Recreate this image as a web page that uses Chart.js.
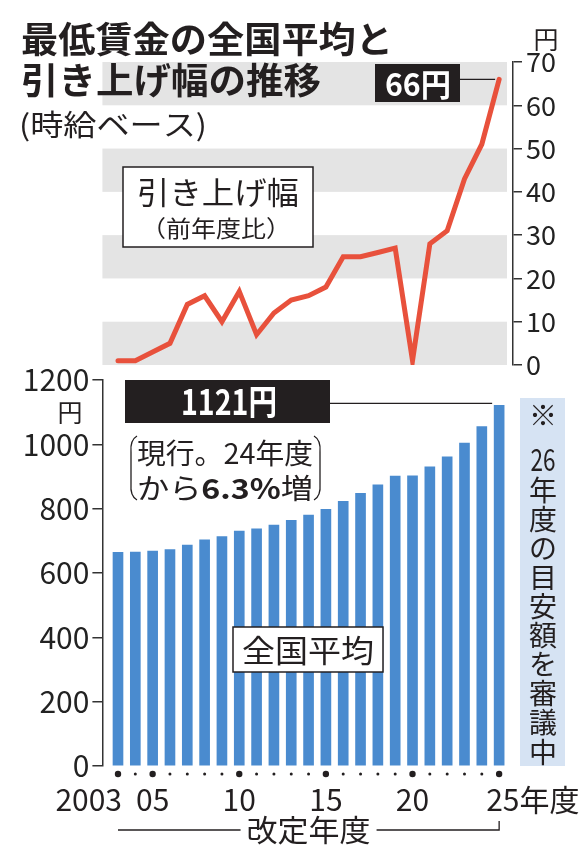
<!DOCTYPE html>
<html>
<head>
<meta charset="utf-8">
<script src="https://cdn.jsdelivr.net/npm/chart.js@4"></script>
<style>
  html, body { margin: 0; padding: 0; background: #fff; }
  #wrap { position: relative; width: 580px; height: 860px; }
  canvas { position: absolute; left: 0; top: 0; }
</style>
</head>
<body>
<div id="wrap">
  <canvas id="top" width="580" height="860"></canvas>
  <canvas id="bottom" width="580" height="860"></canvas>
</div>
<script>
// 改定年度
const years = [2003, 2004, 2005, 2006, 2007, 2008, 2009, 2010, 2011, 2012, 2013, 2014,
               2015, 2016, 2017, 2018, 2019, 2020, 2021, 2022, 2023, 2024, 2025];
// 全国平均（時給、円）
const wage = [664, 665, 668, 673, 687, 703, 713, 730, 737, 749, 764, 780,
              798, 823, 848, 874, 901, 902, 930, 961, 1004, 1055, 1121];
// 引き上げ幅（前年度比、円）
const raise = [1, 1, 3, 5, 14, 16, 10, 17, 7, 12, 15, 16,
               18, 25, 25, 26, 27, 1, 28, 31, 43, 51, 66];
const yearLabels = { 2003: "2003", 2005: "05", 2010: "10", 2015: "15", 2020: "20", 2025: "25" };
const bandRanges = [[0, 10], [20, 30], [40, 50], [60, 70]];
const noteChars = ["※", "26", "年", "度", "の", "目", "安", "額", "を", "審", "議", "中"];

const JP = '"Noto Sans CJK JP", "Noto Sans", sans-serif';
Chart.defaults.font.family = JP;
Chart.defaults.color = "#222";

const INK = "#231f20";
const X_MIN = 2002.1, X_MAX = 2025.8;

// draw text squeezed/stretched horizontally to a given width
function fitText(ctx, text, x, y, size, width, align, weight) {
  ctx.save();
  ctx.font = (weight || "normal") + " " + size + "px " + JP;
  const w = ctx.measureText(text).width;
  const s = width ? width / w : 1;
  ctx.translate(x, y);
  ctx.scale(s, 1);
  ctx.textAlign = align || "left";
  ctx.textBaseline = "middle";
  ctx.fillText(text, 0, 0);
  ctx.restore();
}

function line(ctx, pts, w) {
  ctx.beginPath();
  ctx.moveTo(pts[0][0], pts[0][1]);
  for (let i = 1; i < pts.length; i++) ctx.lineTo(pts[i][0], pts[i][1]);
  ctx.lineWidth = w || 1.3;
  ctx.strokeStyle = INK;
  ctx.stroke();
}

const topDecor = {
  id: "topDecor",
  beforeDatasetsDraw(chart) {
    const { ctx, chartArea, scales } = chart;
    ctx.save();
    ctx.fillStyle = "#e4e4e4";
    bandRanges.forEach(([lo, hi]) => {
      const y1 = scales.y.getPixelForValue(hi), y2 = scales.y.getPixelForValue(lo);
      ctx.fillRect(chartArea.left, y1, chartArea.right - 6 - chartArea.left, y2 - y1);
    });
    ctx.restore();
  },
  afterDraw(chart) {
    const { ctx, scales } = chart;
    ctx.save();
    ctx.fillStyle = INK;
    // title
    fitText(ctx, "最低賃金の全国平均と", 21, 39, 36, 372, "left", "bold");
    fitText(ctx, "引き上げ幅の推移", 21, 80, 36, 300, "left", "bold");
    fitText(ctx, "(時給ベース)", 19, 125, 29, 188, "left");
    // unit
    fitText(ctx, "円", 546, 39, 25, 0, "center");

    // label box
    ctx.fillStyle = "#fff";
    ctx.fillRect(123, 167, 190, 80);
    ctx.strokeStyle = INK;
    ctx.lineWidth = 1.5;
    ctx.strokeRect(123, 167, 190, 80);
    ctx.fillStyle = INK;
    fitText(ctx, "引き上げ幅", 218, 192, 31, 162, "center");
    fitText(ctx, "（前年度比）", 216, 228, 23, 150, "center");

    // 66円 callout
    const last = years.length - 1;
    const px = scales.x.getPixelForValue(years[last]);
    const py = scales.y.getPixelForValue(raise[last]);
    line(ctx, [[460, py], [px - 4, py]], 1.3);
    ctx.fillStyle = "#231f20";
    ctx.fillRect(375, 64, 85, 38);
    ctx.fillStyle = "#fff";
    fitText(ctx, raise[last] + "円", 418, 84, 31, 66, "center", "bold");
    ctx.restore();
  }
};

const bottomDecor = {
  id: "bottomDecor",
  afterDraw(chart) {
    const { ctx, scales } = chart;
    const xs = scales.x, ys = scales.y;
    ctx.save();
    ctx.fillStyle = INK;

    // dots and year labels
    years.forEach(yr => {
      const px = xs.getPixelForValue(yr);
      const big = yr in yearLabels;
      ctx.beginPath();
      ctx.arc(px, 774, big ? 3.2 : 1.5, 0, Math.PI * 2);
      ctx.fill();
    });
    ctx.font = "30px " + JP;
    ctx.textBaseline = "middle";
    Object.keys(yearLabels).forEach(k => {
      const yr = +k;
      const px = xs.getPixelForValue(yr);
      if (yr === years[0]) {
        ctx.textAlign = "right";
        ctx.fillText(yearLabels[k], px + 4, 800);
      } else if (yr === years[years.length - 1]) {
        ctx.textAlign = "left";
        ctx.fillText(yearLabels[k], px - 13, 800);
        fitText(ctx, "年度", px - 13 + ctx.measureText(yearLabels[k]).width, 800, 30, 0, "left");
        ctx.font = "30px " + JP;
        ctx.textBaseline = "middle";
      } else {
        ctx.textAlign = "center";
        ctx.fillText(yearLabels[k], px, 800);
      }
    });

    // 改定年度 bracket
    const x0 = xs.getPixelForValue(years[0]);
    const x1 = xs.getPixelForValue(years[years.length - 1]);
    const mid = (x0 + x1) / 2;
    line(ctx, [[x0, 830], [mid - 68, 830]], 1.3);
    line(ctx, [[mid + 68, 830], [x1, 830], [x1, 821]], 1.3);
    fitText(ctx, "改定年度", mid, 830, 30, 124, "center");

    // y unit
    fitText(ctx, "円", 70, 412, 25, 0, "center");

    // 全国平均 box
    ctx.fillStyle = "#fff";
    ctx.fillRect(233, 627, 150, 45);
    ctx.strokeStyle = INK;
    ctx.lineWidth = 1.5;
    ctx.strokeRect(233, 627, 150, 45);
    ctx.fillStyle = INK;
    fitText(ctx, "全国平均", 308, 650, 31, 132, "center");

    // 1121円 callout
    const last = years.length - 1;
    const bx = xs.getPixelForValue(years[last]);
    const by = ys.getPixelForValue(wage[last]);
    line(ctx, [[330, by - 2], [bx - 7, by - 2]], 1.3);
    ctx.fillStyle = "#231f20";
    ctx.fillRect(125, 380, 205, 43);
    ctx.fillStyle = "#fff";
    fitText(ctx, wage[last] + "円", 229, 402, 35, 96, "center", "bold");

    // (現行。24年度から6.3%増)
    ctx.fillStyle = INK;
    fitText(ctx, "現行。24年度", 137, 453, 28, 176, "left");
    const segs = [["から", "normal"], ["6.3%", "bold"], ["増", "normal"]];
    let tw = 0;
    segs.forEach(s => { ctx.font = s[1] + " 28px " + JP; s.push(ctx.measureText(s[0]).width); tw += s[2]; });
    const sc = 176 / tw;
    let cx = 137;
    segs.forEach(s => {
      fitText(ctx, s[0], cx, 488, 28, s[2] * sc, "left", s[1]);
      cx += s[2] * sc;
    });
    ctx.strokeStyle = INK;
    ctx.lineWidth = 1.3;
    ctx.beginPath();
    ctx.moveTo(137, 436);
    ctx.quadraticCurveTo(130, 440, 131, 452);
    ctx.lineTo(131, 484);
    ctx.quadraticCurveTo(130, 496, 137, 500);
    ctx.moveTo(314, 436);
    ctx.quadraticCurveTo(321, 440, 320, 452);
    ctx.lineTo(320, 484);
    ctx.quadraticCurveTo(321, 496, 314, 500);
    ctx.stroke();

    // note box
    ctx.fillStyle = "#d6e3f3";
    ctx.fillRect(520, 398, 45, 368);
    ctx.fillStyle = INK;
    let ny = 415;
    noteChars.forEach((c, i) => {
      if (c === "26") {
        fitText(ctx, c, 543, ny + 4, 31, 25, "center");
        ny += 35;
      } else {
        fitText(ctx, c, 543, ny, 28, 0, "center");
        ny += (i === 0 ? 40 : 29.1);
      }
    });
    ctx.restore();
  }
};

new Chart(document.getElementById("top"), {
  type: "line",
  data: {
    datasets: [{
      data: years.map((yr, i) => ({ x: yr, y: raise[i] })),
      borderColor: "#e8513c",
      borderWidth: 5,
      pointRadius: 0,
      tension: 0,
      borderJoinStyle: "miter",
      borderCapStyle: "round"
    }]
  },
  options: {
    responsive: false,
    animation: false,
    events: [],
    layout: { padding: { top: 62, bottom: 495, left: 102.4, right: 0 } },
    plugins: { legend: { display: false }, tooltip: { enabled: false } },
    scales: {
      x: { type: "linear", min: X_MIN, max: X_MAX, offset: false, display: false },
      y: {
        position: "right", min: 0, max: 70,
        ticks: { stepSize: 10, color: "#222", font: { size: 27 }, padding: 4, callback: v => String(v) },
        grid: { drawOnChartArea: false, tickLength: 9, color: "#333", lineWidth: 1.5 },
        border: { color: "#333", width: 1.5 },
        afterFit: s => { s.width = 67; }
      }
    }
  },
  plugins: [topDecor]
});

new Chart(document.getElementById("bottom"), {
  type: "bar",
  data: {
    datasets: [{
      data: years.map((yr, i) => ({ x: yr, y: wage[i] })),
      backgroundColor: "#4a8bcf",
      barThickness: 10
    }]
  },
  options: {
    responsive: false,
    animation: false,
    events: [],
    layout: { padding: { top: 380, bottom: 94, left: 0, right: 67 } },
    plugins: { legend: { display: false }, tooltip: { enabled: false } },
    scales: {
      x: { type: "linear", min: X_MIN, max: X_MAX, offset: false, grid: { offset: false }, display: false },
      y: {
        position: "left", min: 0, max: 1200,
        ticks: { stepSize: 200, color: "#222", font: { size: 30 }, padding: 3, callback: v => String(v) },
        grid: { drawOnChartArea: false, tickLength: 10, color: "#333", lineWidth: 1.5 },
        border: { color: "#333", width: 1.5 },
        afterFit: s => { s.width = 102.4; }
      }
    }
  },
  plugins: [bottomDecor]
});
</script>
</body>
</html>
